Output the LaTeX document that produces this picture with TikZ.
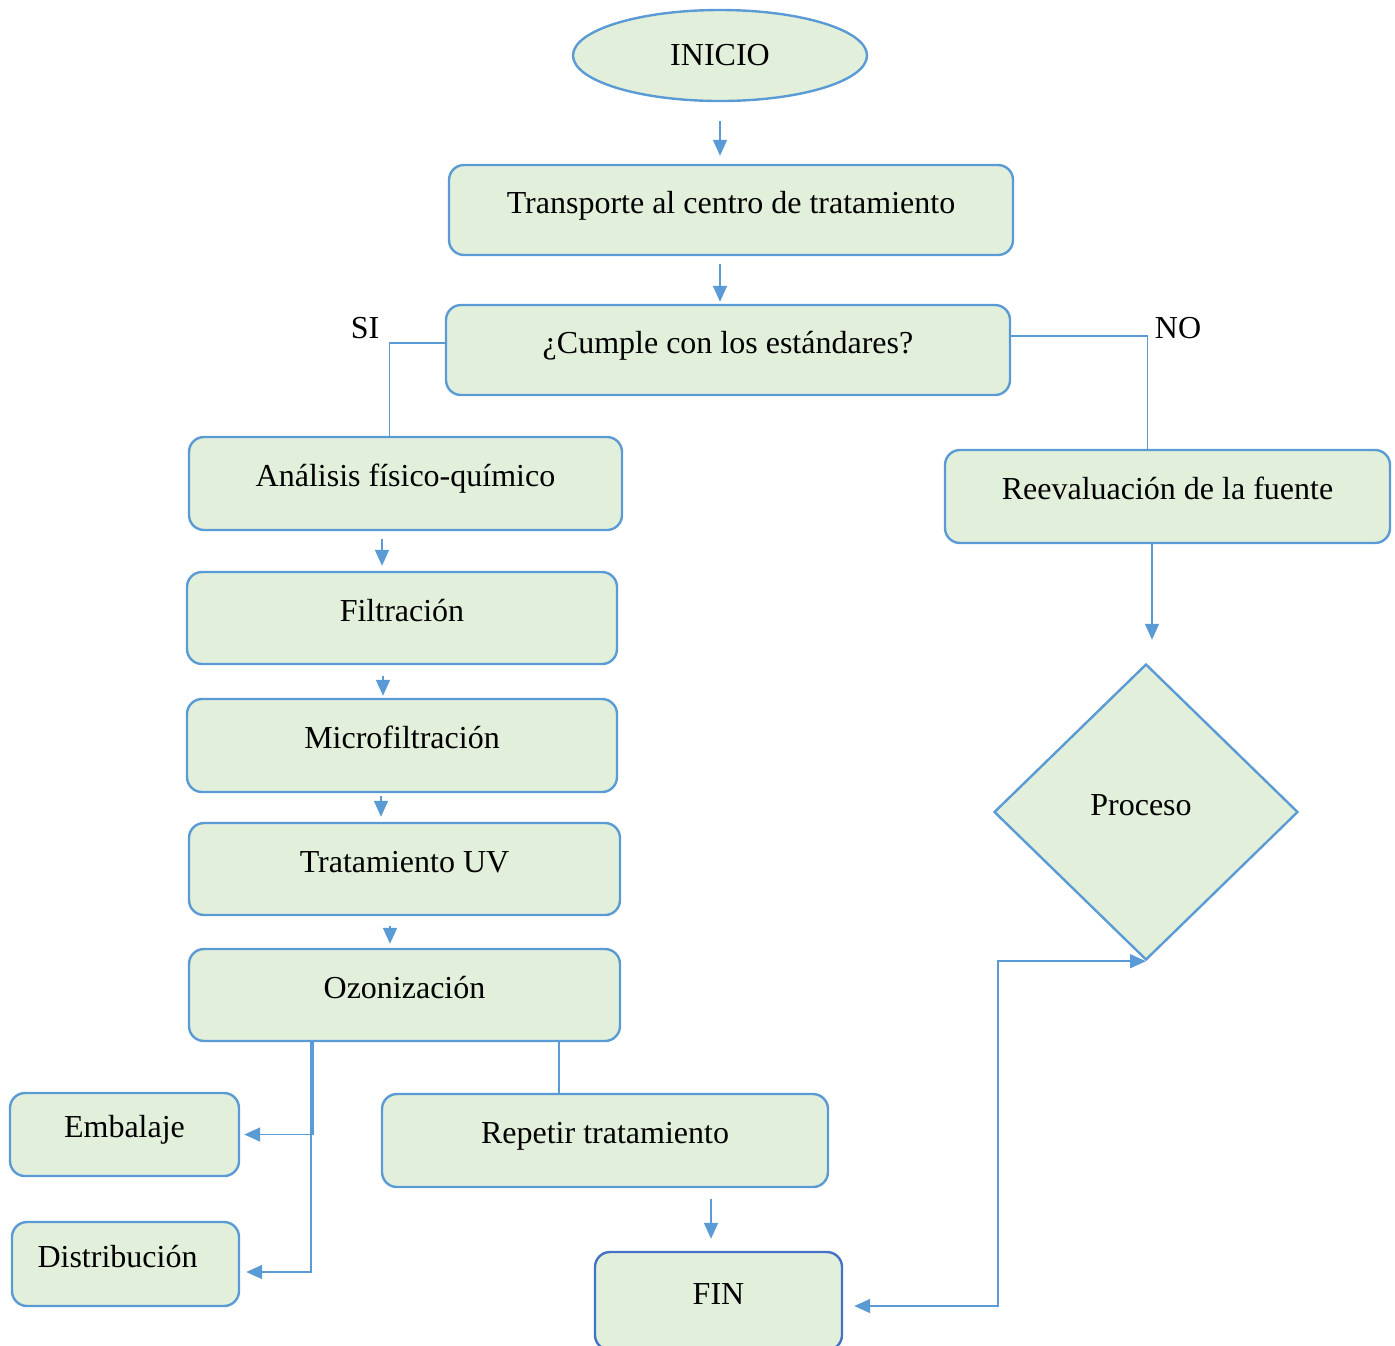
\documentclass[tikz,border=0pt]{standalone}
\usepackage{fontspec}
\setmainfont{Liberation Serif}
\usepackage{tikz}
\usetikzlibrary{shapes}
\usetikzlibrary{arrows}
\usetikzlibrary{arrows.meta}
\definecolor{borde}{HTML}{5B9BD5}
\definecolor{bordefin}{HTML}{4472C4}
\definecolor{relleno}{HTML}{E2EFDA}

\begin{document}
\begin{tikzpicture}[x=0.5pt,y=-0.5pt]
			\tikzstyle{every node}=[font=\fontsize{16pt}{19pt}\selectfont]
			\tikzstyle{caja}=[rectangle,rounded corners=7.5pt,draw=borde,line width=1.2pt,fill=relleno,text height=11pt,text depth=8pt,inner sep=0pt]
			\tikzstyle{linea}=[draw=borde,line width=0.8pt]
			\tikzstyle{flecha}=[linea,-{Triangle[length=8pt,width=7pt]}]
			\useasboundingbox (0,0) rectangle (1395,1345);

			\node[ellipse,draw=borde,line width=1.2pt,fill=relleno,minimum width=147pt,minimum height=45.5pt,inner sep=0pt] (inicio) at (720,55.5) {INICIO};
			\node[caja,minimum width=282pt,minimum height=45pt] (transporte) at (731,210) {Transporte al centro de tratamiento};
			\node[caja,minimum width=282pt,minimum height=45pt] (cumple) at (728,350) {¿Cumple con los estándares?};
			\node[caja,minimum width=216.5pt,minimum height=46.5pt] (analisis) at (405.5,483.5) {Análisis físico-químico};
			\node[caja,minimum width=215pt,minimum height=46pt] (filtracion) at (402,618) {Filtración};
			\node[caja,minimum width=215pt,minimum height=46.5pt] (micro) at (402,745.5) {Microfiltración};
			\node[caja,minimum width=215.5pt,minimum height=46pt] (uv) at (404.5,869) {Tratamiento UV};
			\node[caja,minimum width=215.5pt,minimum height=46pt] (ozono) at (404.5,995) {Ozonización};
			\node[caja,minimum width=114.5pt,minimum height=41.5pt] (embalaje) at (124.5,1134.5) {Embalaje};
			\node[caja,minimum width=113.5pt,minimum height=42pt] (distrib) at (125.5,1264) {\hspace*{-8pt}Distribución};
			\node[caja,minimum width=223pt,minimum height=46.5pt] (repetir) at (605,1140.5) {Repetir tratamiento};
			\node[caja,draw=bordefin,minimum width=123.5pt,minimum height=49pt] (fin) at (718.5,1301) {FIN};
			\node[caja,minimum width=222.5pt,minimum height=46.5pt] (reeval) at (1167.5,496.5) {Reevaluación de la fuente};
			\node[diamond,draw=borde,line width=1.2pt,fill=relleno,minimum width=152pt,minimum height=148pt,inner sep=0pt,text height=11pt,text depth=8pt] (proceso) at (1146,812) {\hspace*{-5pt}Proceso};

			\node (si) at (365,328) {SI};
			\node (no) at (1178,328) {NO};

			% conectores
			\draw[flecha,shorten <=9.5pt,shorten >=4pt] (inicio.south) -- (inicio.south |- transporte.north);
			\draw[flecha,shorten <=4pt,shorten >=1pt] (inicio.south |- transporte.south) -- (inicio.south |- cumple.north);
			\draw[linea] ([yshift=3.5pt]cumple.west) -| ([xshift=-8pt]analisis.north);
			\draw[linea] ([yshift=7pt]cumple.east) -| ([xshift=-10pt]reeval.north);
			\draw[flecha,shorten <=4pt,shorten >=2.5pt] ([xshift=-10pt]filtracion.north |- analisis.south) -- ([xshift=-10pt]filtracion.north);
			\draw[flecha,shorten <=5.5pt,shorten >=1pt] ([xshift=-9.5pt]micro.north |- filtracion.south) -- ([xshift=-9.5pt]micro.north);
			\draw[flecha,shorten <=1.5pt,shorten >=2.5pt] ([xshift=-11.75pt]uv.north |- micro.south) -- ([xshift=-11.75pt]uv.north);
			\draw[flecha,shorten <=5pt,shorten >=2pt] ([xshift=-7.25pt]uv.south) -- ([xshift=-7.25pt]ozono.north);
			\draw[flecha,shorten >=2pt] ([xshift=-45.75pt]ozono.south) |- (embalaje.east);
			\draw[flecha,shorten >=3pt] ([xshift=-46.75pt]ozono.south) |- ([yshift=-4pt]distrib.east);
			\draw[linea] ([xshift=-23pt]repetir.north |- ozono.south) -- ([xshift=-23pt]repetir.north);
			\draw[flecha,shorten <=5.5pt,shorten >=6pt] ([xshift=-3.75pt]fin.north |- repetir.south) -- ([xshift=-3.75pt]fin.north);
			\draw[flecha,shorten >=11.5pt] ([xshift=-7.75pt]reeval.south) -- ([xshift=-7.75pt]reeval.south |- proceso.north);
			\draw[linea,{Triangle[length=8pt,width=7pt]}-{Triangle[length=8pt,width=7pt]},shorten <=5.5pt] ([yshift=-2.5pt]fin.east) -| ([xshift=-74pt]proceso.south) -- (proceso.south);
\end{tikzpicture}
\end{document}
